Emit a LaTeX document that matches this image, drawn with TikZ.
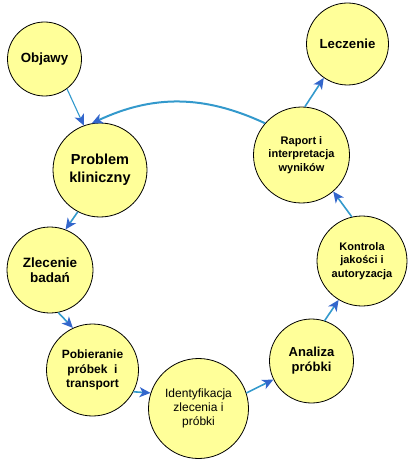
\documentclass[tikz,border=0pt]{standalone}
\usepackage{fontspec}
\setmainfont{Liberation Sans}
\usetikzlibrary{arrows.meta}

\definecolor{stagefill}{RGB}{255,255,153}
\definecolor{linkblue}{RGB}{51,153,204}
\definecolor{tipblue}{RGB}{51,102,204}

\tikzset{
    stage/.style={circle, draw=black, line width=0.8pt, fill=stagefill,
                  inner sep=0pt, align=center, font=\bfseries},
    link/.style={draw=linkblue, line width=1.6pt,
                 -{Stealth[length=11pt,width=10pt,inset=3pt,color=tipblue]}}
}

\begin{document}
\begin{tikzpicture}[x=1pt,y=-1pt]
        \useasboundingbox (0,0) rectangle (416,465);

        \node[stage, minimum size=74pt, font=\bfseries\fontsize{13.3}{16}\selectfont] (objawy) at (44.5,59) {Objawy};
        \node[stage, minimum size=94pt, font=\bfseries\fontsize{14.5}{17.7}\selectfont] (problem) at (100,170) {Problem\\kliniczny};
        \node[stage, minimum size=86pt, font=\bfseries\fontsize{13.5}{15}\selectfont] (zlecenie) at (50,270) {Zlecenie\\badań};
        \node[stage, minimum size=92pt, font=\bfseries\fontsize{12}{14.5}\selectfont] (pobieranie) at (92.5,370) {Pobieranie\\próbek\ \ i\\transport};
        \node[stage, minimum size=100pt, font=\fontsize{12}{14}\selectfont] (ident) at (198.5,408.5) {Identyfikacja\\zlecenia i\\próbki};
        \node[stage, minimum size=84pt, font=\bfseries\fontsize{13}{15}\selectfont] (analiza) at (311.5,361) {Analiza\\próbki};
        \node[stage, minimum size=90pt, font=\bfseries\fontsize{11}{13.3}\selectfont] (kontrola) at (362,261) {Kontrola\\jakości i\\autoryzacja};
        \node[stage, minimum size=96pt, font=\bfseries\fontsize{11}{13.3}\selectfont] (raport) at (301.5,155) {Raport i\\interpretacja\\wyników};
        \node[stage, minimum size=82pt, font=\bfseries\fontsize{13.2}{16}\selectfont] (leczenie) at (347.5,44) {Leczenie};

        % cycle of stages
        \draw[link, line width=1.1pt] (objawy.-53) -- (problem.110);
        \draw[link] (problem.-118) -- (zlecenie.69);
        \draw[link] (zlecenie.-79) -- (pobieranie.115);
        \draw[link] (pobieranie.-28) -- (ident.162);
        \draw[link] (ident.18) -- (analiza.206);
        \draw[link] (analiza.72) -- (kontrola.239);
        \draw[link] (kontrola.103) -- (raport.-49);
        \draw[link] (raport.86) -- (leczenie.235);

        % back to the clinical problem
        \draw[link, line width=2pt] (raport.139) to[out=155,in=25] (problem.100);

    \end{tikzpicture}
\end{document}
